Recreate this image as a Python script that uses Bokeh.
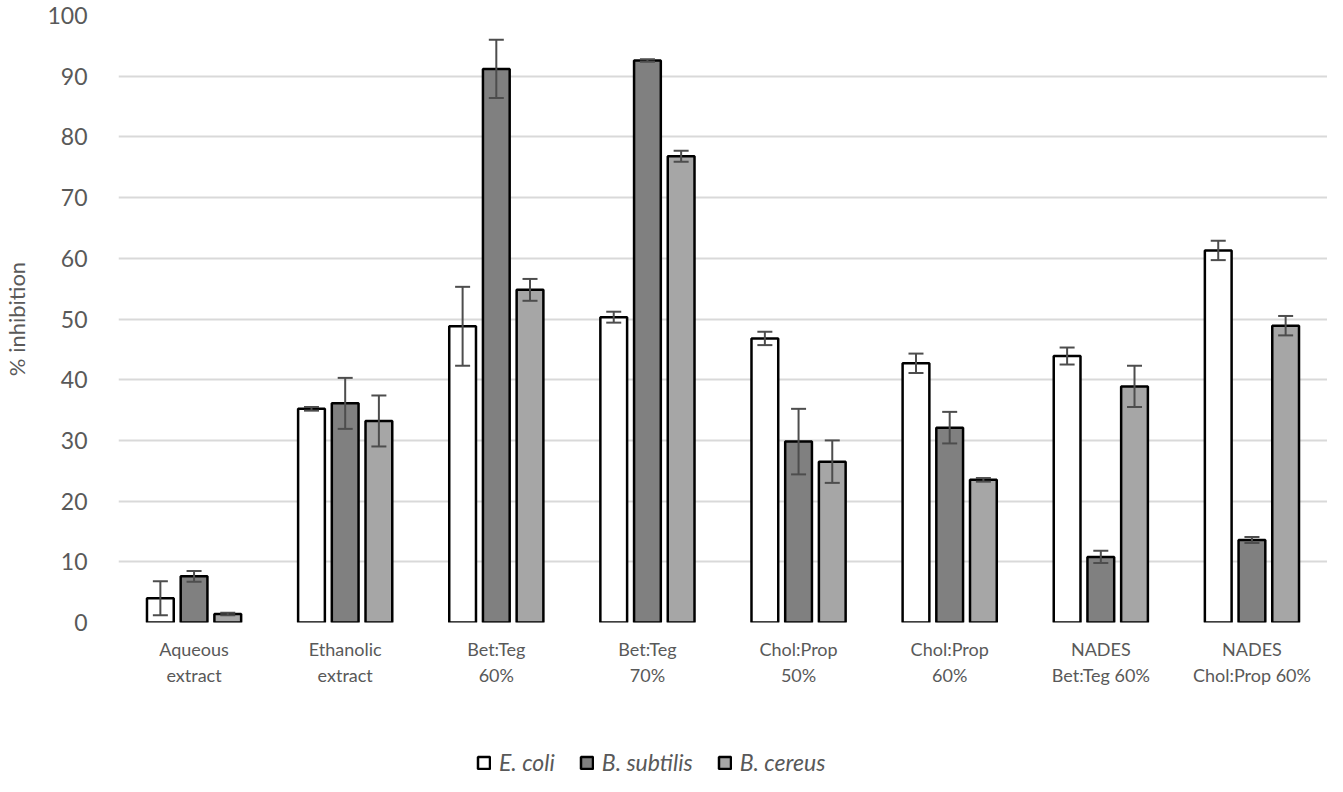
from bokeh.plotting import figure
from bokeh.layouts import column
from bokeh.models import (ColumnDataSource, Whisker, TeeHead, FixedTicker, Legend, LegendItem, Range1d)
from bokeh.embed import file_html
from bokeh.resources import INLINE

categories = ["Aqueous\nextract", "Ethanolic\nextract", "Bet:Teg\n60%", "Bet:Teg\n70%",
              "Chol:Prop\n50%", "Chol:Prop\n60%", "NADES\nBet:Teg 60%", "NADES\nChol:Prop 60%"]
series = ["E. coli", "B. subtilis", "B. cereus"]
ecoli = [4.0, 35.2, 48.8, 50.3, 46.8, 42.7, 43.9, 61.3]
ecoli_err = [2.8, 0.3, 6.5, 0.9, 1.1, 1.6, 1.4, 1.6]
bsub = [7.6, 36.1, 91.2, 92.6, 29.8, 32.1, 10.8, 13.6]
bsub_err = [0.9, 4.2, 4.8, 0.2, 5.4, 2.6, 1.0, 0.5]
bcer = [1.4, 33.2, 54.8, 76.8, 26.5, 23.5, 38.9, 48.9]
bcer_err = [0.2, 4.2, 1.8, 0.9, 3.5, 0.3, 3.4, 1.6]
y_ticks = [0, 10, 20, 30, 40, 50, 60, 70, 80, 90, 100]

colors = ["#ffffff", "#808080", "#a6a6a6"]
offsets = [-0.223, 0.0, 0.223]
FONT = "Lato"
TXT = "#595959"
ERR = "#4d4d4d"

p = figure(width=1327, height=708, output_backend="svg", toolbar_location=None,
           x_range=Range1d(-0.5, 7.5), y_range=Range1d(0, 100),
           min_border_left=110, min_border_right=0, min_border_top=15, min_border_bottom=86)
p.outline_line_color = None
p.background_fill_color = "white"
p.border_fill_color = "white"

for name, vals, errs, col, off in zip(series, [ecoli, bsub, bcer], [ecoli_err, bsub_err, bcer_err], colors, offsets):
    xs = [i + off for i in range(len(categories))]
    src = ColumnDataSource(dict(x=xs, top=vals, upper=[v + e for v, e in zip(vals, errs)],
                                lower=[v - e for v, e in zip(vals, errs)]))
    p.vbar(x="x", top="top", bottom=0, width=0.177, source=src, fill_color=col,
           line_color="black", line_width=2.5)
    w = Whisker(base="x", upper="upper", lower="lower", source=src, level="overlay",
                line_color=ERR, line_width=2,
                upper_head=TeeHead(size=15, line_color=ERR, line_width=2),
                lower_head=TeeHead(size=15, line_color=ERR, line_width=2))
    p.add_layout(w)

p.xaxis.ticker = FixedTicker(ticks=list(range(len(categories))))
p.xaxis.major_label_overrides = {i: c for i, c in enumerate(categories)}
p.xaxis.axis_line_color = None
p.xaxis.major_tick_line_color = None
p.xaxis.minor_tick_line_color = None
p.xaxis.major_label_text_font = FONT
p.xaxis.major_label_text_font_size = "18px"
p.xaxis.major_label_text_color = TXT
p.xaxis.major_label_standoff = 9
p.xgrid.grid_line_color = None

p.yaxis.ticker = FixedTicker(ticks=y_ticks)
p.yaxis.axis_line_color = None
p.yaxis.major_tick_line_color = None
p.yaxis.minor_tick_line_color = None
p.yaxis.major_label_text_font = FONT
p.yaxis.major_label_text_font_size = "23px"
p.yaxis.major_label_text_color = TXT
p.yaxis.major_label_standoff = 25
p.yaxis.axis_label = "% inhibition"
p.yaxis.axis_label_text_font = FONT
p.yaxis.axis_label_text_font_size = "22px"
p.yaxis.axis_label_text_font_style = "normal"
p.yaxis.axis_label_text_color = TXT
p.yaxis.axis_label_standoff = 14
p.ygrid.grid_line_color = "#d9d9d9"
p.ygrid.grid_line_width = 2

# legend strip below the chart
lg = figure(width=1327, height=68, output_backend="svg", toolbar_location=None,
            x_range=Range1d(0, 1), y_range=Range1d(0, 1),
            x_axis_location=None, y_axis_location=None,
            min_border_left=0, min_border_right=0, min_border_top=0, min_border_bottom=0)
lg.grid.grid_line_color = None
lg.outline_line_color = None
items = []
for name, col in zip(series, colors):
    # swatch-only renderer, placed outside the visible ranges
    r = lg.quad(left=[-3], right=[-2], bottom=[-3], top=[-2], fill_color=col,
                line_color="black", line_width=2.5)
    items.append(LegendItem(label=name, renderers=[r]))
legend = Legend(items=items, orientation="horizontal", location=(358, 0),
                label_text_font=FONT, label_text_font_size="23px", label_text_font_style="italic",
                label_text_color=TXT, glyph_width=15, glyph_height=15, spacing=24,
                label_standoff=8, border_line_color=None, background_fill_alpha=0,
                margin=0, padding=0)
lg.add_layout(legend, "center")

layout = column(p, lg, spacing=0)
open("out.html", "w").write(file_html(layout, INLINE))
